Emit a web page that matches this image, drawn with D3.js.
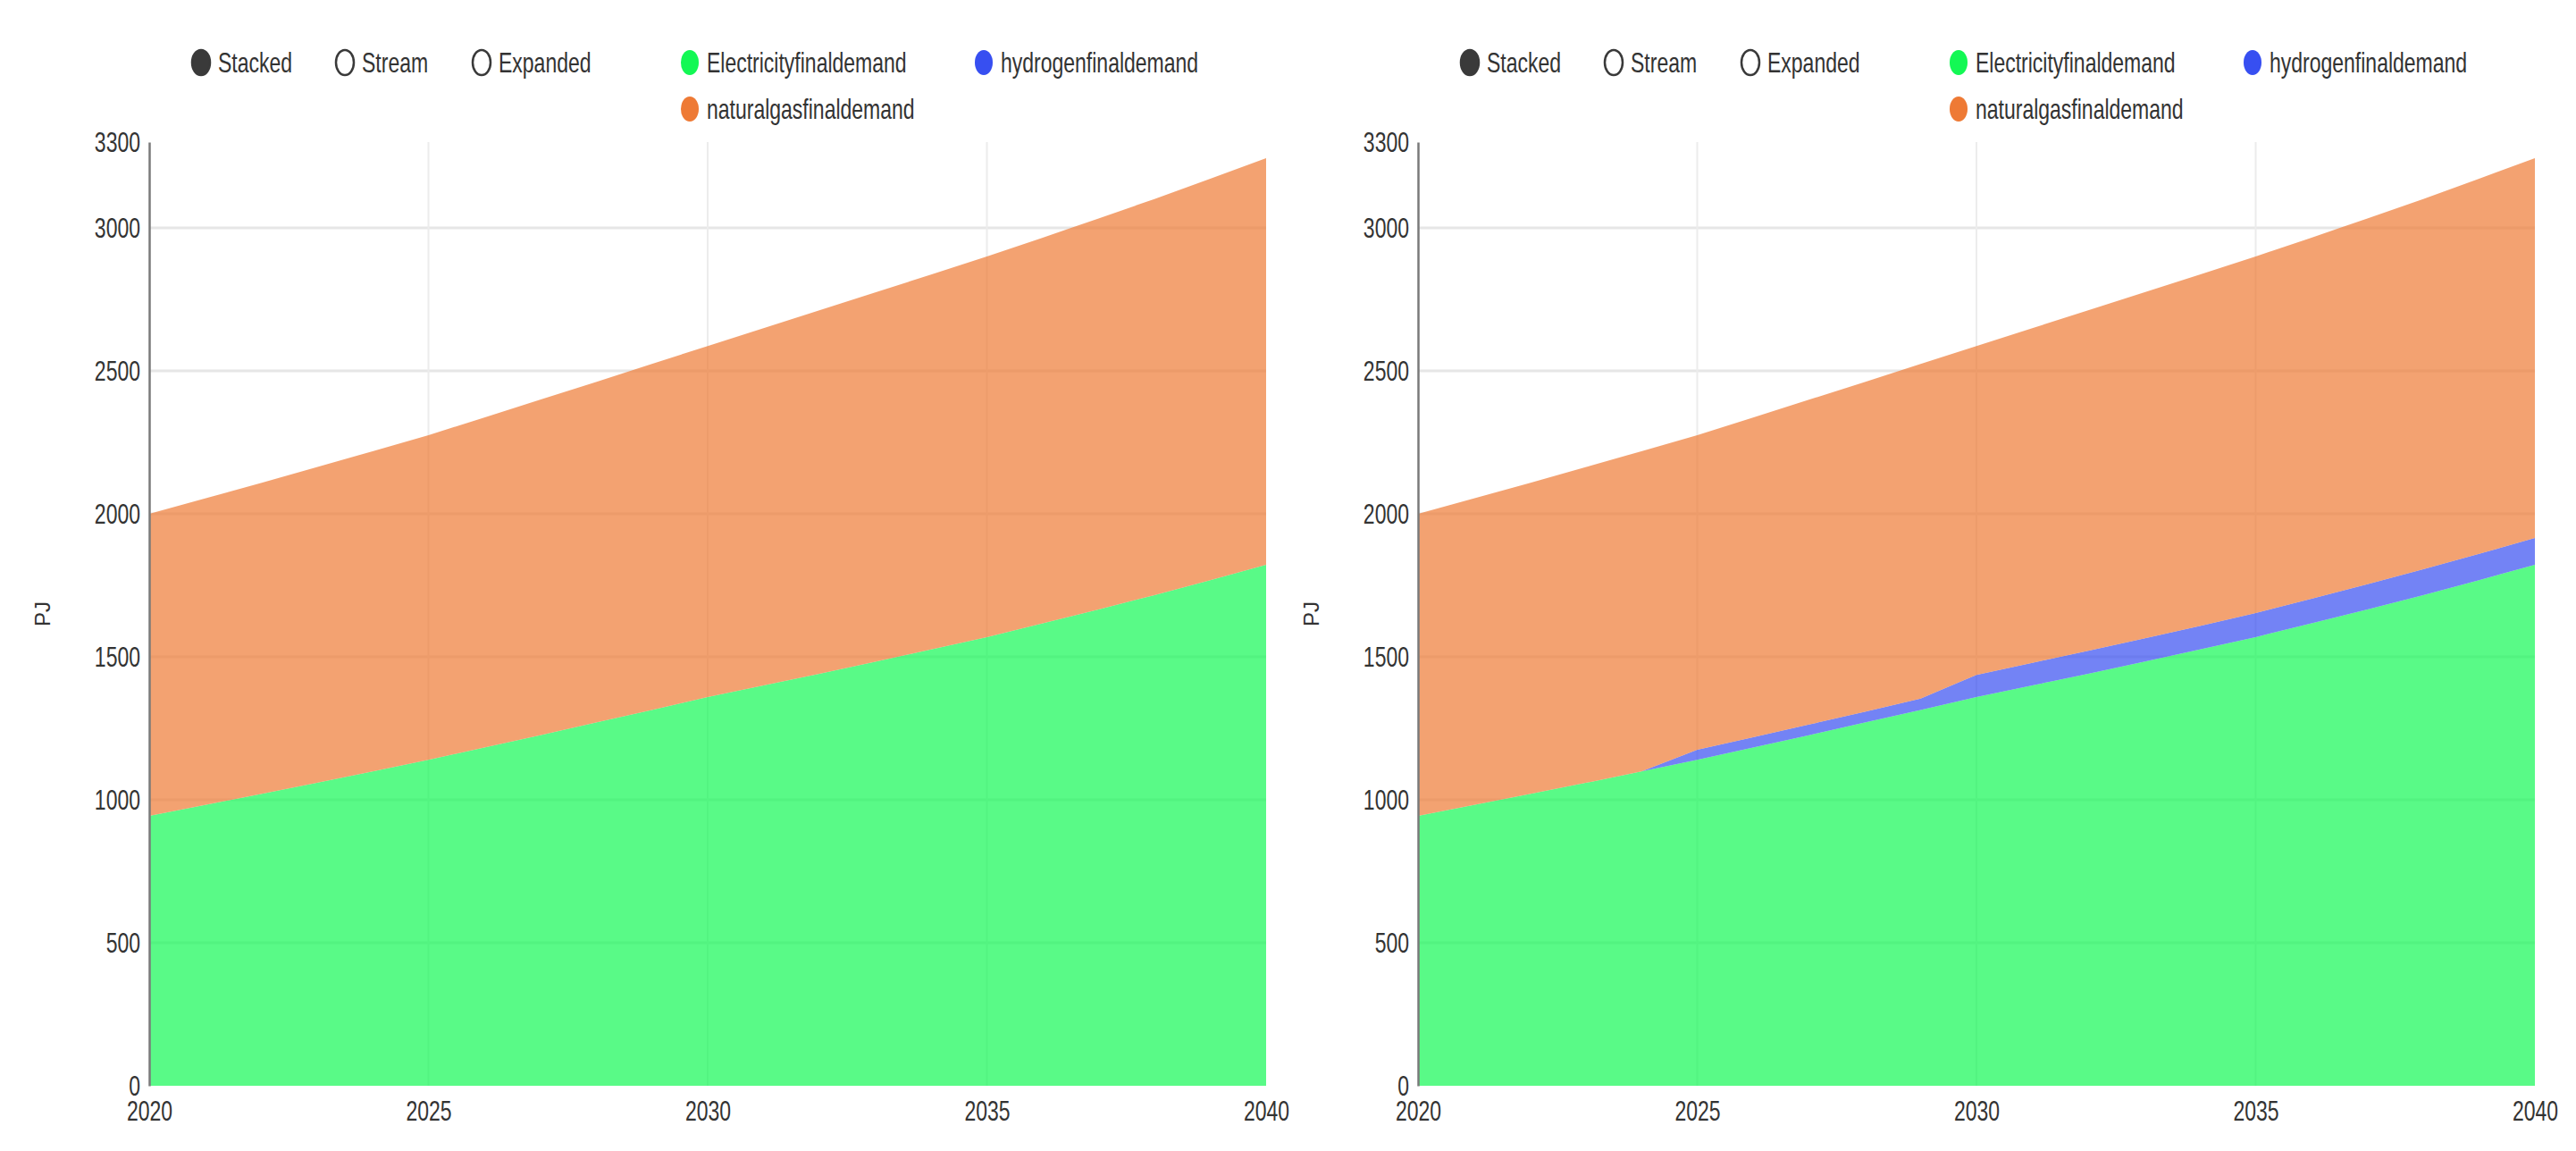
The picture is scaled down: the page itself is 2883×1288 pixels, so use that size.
<!DOCTYPE html>
<html>
<head>
<meta charset="utf-8">
<script src="https://d3js.org/d3.v7.min.js"></script>
<style>
  body { margin: 0; background: #fff; }
  text { font-family: "Liberation Sans", Arial, sans-serif; fill: #333; }
</style>
</head>
<body>
<svg id="chart" width="2883" height="1288"></svg>
<script>
// data (PJ)
var years = [2020, 2021, 2022, 2023, 2024, 2025, 2026, 2027, 2028, 2029, 2030,
  2031, 2032, 2033, 2034, 2035, 2036, 2037, 2038, 2039, 2040];

var electricity = [944, 982, 1020, 1059, 1099, 1140, 1183, 1226, 1270, 1314, 1359,
  1400, 1441, 1483, 1526, 1569, 1617, 1666, 1716, 1768, 1822];

// left chart: no hydrogen
var hydrogenA = [0, 0, 0, 0, 0, 0, 0, 0, 0, 0, 0, 0, 0, 0, 0, 0, 0, 0, 0, 0, 0];
var naturalgasA = [1056, 1072, 1088, 1104, 1120, 1135, 1154, 1173, 1191, 1210, 1228,
  1249, 1271, 1291, 1311, 1331, 1349, 1367, 1385, 1404, 1422];

// right chart: hydrogen replaces part of the gas
var hydrogenB = [0, 0, 0, 0, 0, 35, 36, 37, 38, 40, 78, 79, 80, 81, 82, 84, 86, 88, 90, 92, 94];
var naturalgasB = [1056, 1072, 1088, 1104, 1120, 1100, 1118, 1136, 1153, 1170, 1150,
  1170, 1191, 1210, 1229, 1247, 1263, 1279, 1295, 1312, 1328];

var seriesNames = ["Electricityfinaldemand", "hydrogenfinaldemand", "naturalgasfinaldemand"];
var seriesColors = ["#13f854", "#374ff1", "#ee7a35"];
var modes = ["Stacked", "Stream", "Expanded"];
var yTicks = [0, 500, 1000, 1500, 2000, 2500, 3000, 3300];
var xTicks = [2020, 2025, 2030, 2035, 2040];

var sy = 1.38; // the screenshot is stretched vertically
var svg = d3.select("#chart");

var plotW = 1250, plotH = 1056, plotTop = 159;

function drawPanel(offsetX, hydrogen, naturalgas) {
  var rows = years.map(function (y, i) {
    return {
      year: y,
      Electricityfinaldemand: electricity[i],
      hydrogenfinaldemand: hydrogen[i],
      naturalgasfinaldemand: naturalgas[i]
    };
  });

  var xScale = d3.scaleLinear().domain([2020, 2040]).range([0, plotW]);
  var yScale = d3.scaleLinear().domain([0, 3300]).range([plotH, 0]);

  var g = svg.append("g")
    .attr("transform", "translate(" + (offsetX + 167) + "," + plotTop + ")");

  // grid
  g.append("g").selectAll("line")
    .data(yTicks.filter(function (d) { return d > 0 && d < 3300; }))
    .join("line")
    .attr("x1", 0).attr("x2", plotW)
    .attr("y1", function (d) { return yScale(d); })
    .attr("y2", function (d) { return yScale(d); })
    .attr("stroke", "#e6e6e6").attr("stroke-width", 3);
  g.append("g").selectAll("line")
    .data(xTicks.slice(1, -1))
    .join("line")
    .attr("y1", 0).attr("y2", plotH)
    .attr("x1", function (d) { return xScale(d); })
    .attr("x2", function (d) { return xScale(d); })
    .attr("stroke", "#ececec").attr("stroke-width", 2);

  var stack = d3.stack().keys(seriesNames);
  var layers = stack(rows);

  var area = d3.area()
    .x(function (d) { return xScale(d.data.year); })
    .y0(function (d) { return yScale(d[0]); })
    .y1(function (d) { return yScale(d[1]); });

  g.append("g").selectAll("path")
    .data(layers)
    .join("path")
    .attr("fill", function (d, i) { return seriesColors[i]; })
    .attr("fill-opacity", 0.7)
    .attr("d", area);

  // y axis
  var yAxis = g.append("g")
    .call(d3.axisLeft(yScale).tickValues(yTicks).tickFormat(d3.format("d")).tickSize(0).tickPadding(10));
  yAxis.select(".domain").attr("stroke", "#7a7a7a").attr("stroke-width", 2.5);
  yAxis.selectAll("text")
    .attr("font-size", 23)
    .attr("fill", "#333")
    .attr("transform", "scale(1," + sy + ")");

  // x axis labels
  var xAxis = g.append("g")
    .attr("transform", "translate(0," + plotH + ")")
    .call(d3.axisBottom(xScale).tickValues(xTicks).tickFormat(d3.format("d")).tickSize(0).tickPadding(12));
  xAxis.select(".domain").remove();
  xAxis.selectAll("text")
    .attr("font-size", 23)
    .attr("fill", "#333")
    .attr("transform", "scale(1," + sy + ")");

  // y label
  svg.append("text")
    .attr("x", offsetX + 48).attr("y", 687)
    .attr("transform", "rotate(-90," + (offsetX + 48) + ",687)")
    .attr("text-anchor", "middle")
    .attr("dy", "0.35em")
    .attr("font-size", 24)
    .text("PJ");

  // legend: modes
  var modeX = [225, 386, 539];
  modes.forEach(function (m, i) {
    var cx = offsetX + modeX[i];
    svg.append("ellipse")
      .attr("cx", cx).attr("cy", 70).attr("rx", 10).attr("ry", 14)
      .attr("fill", i === 0 ? "#3a3a3a" : "#fff")
      .attr("stroke", "#3a3a3a").attr("stroke-width", 2.5);
    svg.append("text")
      .attr("transform", "translate(" + (cx + 19) + ",81) scale(1," + sy + ")")
      .attr("font-size", 23)
      .attr("fill", "#222")
      .text(m);
  });

  // legend: series
  var legPos = [[772, 70], [1101, 70], [772, 122]];
  seriesNames.forEach(function (s, i) {
    var cx = offsetX + legPos[i][0], cy = legPos[i][1];
    svg.append("ellipse")
      .attr("cx", cx).attr("cy", cy).attr("rx", 10).attr("ry", 14)
      .attr("fill", seriesColors[i]);
    svg.append("text")
      .attr("transform", "translate(" + (cx + 19) + "," + (cy + 11) + ") scale(1," + sy + ")")
      .attr("font-size", 23)
      .attr("fill", "#222")
      .text(s);
  });
}

drawPanel(0, hydrogenA, naturalgasA);
drawPanel(1420, hydrogenB, naturalgasB);
</script>
</body>
</html>
